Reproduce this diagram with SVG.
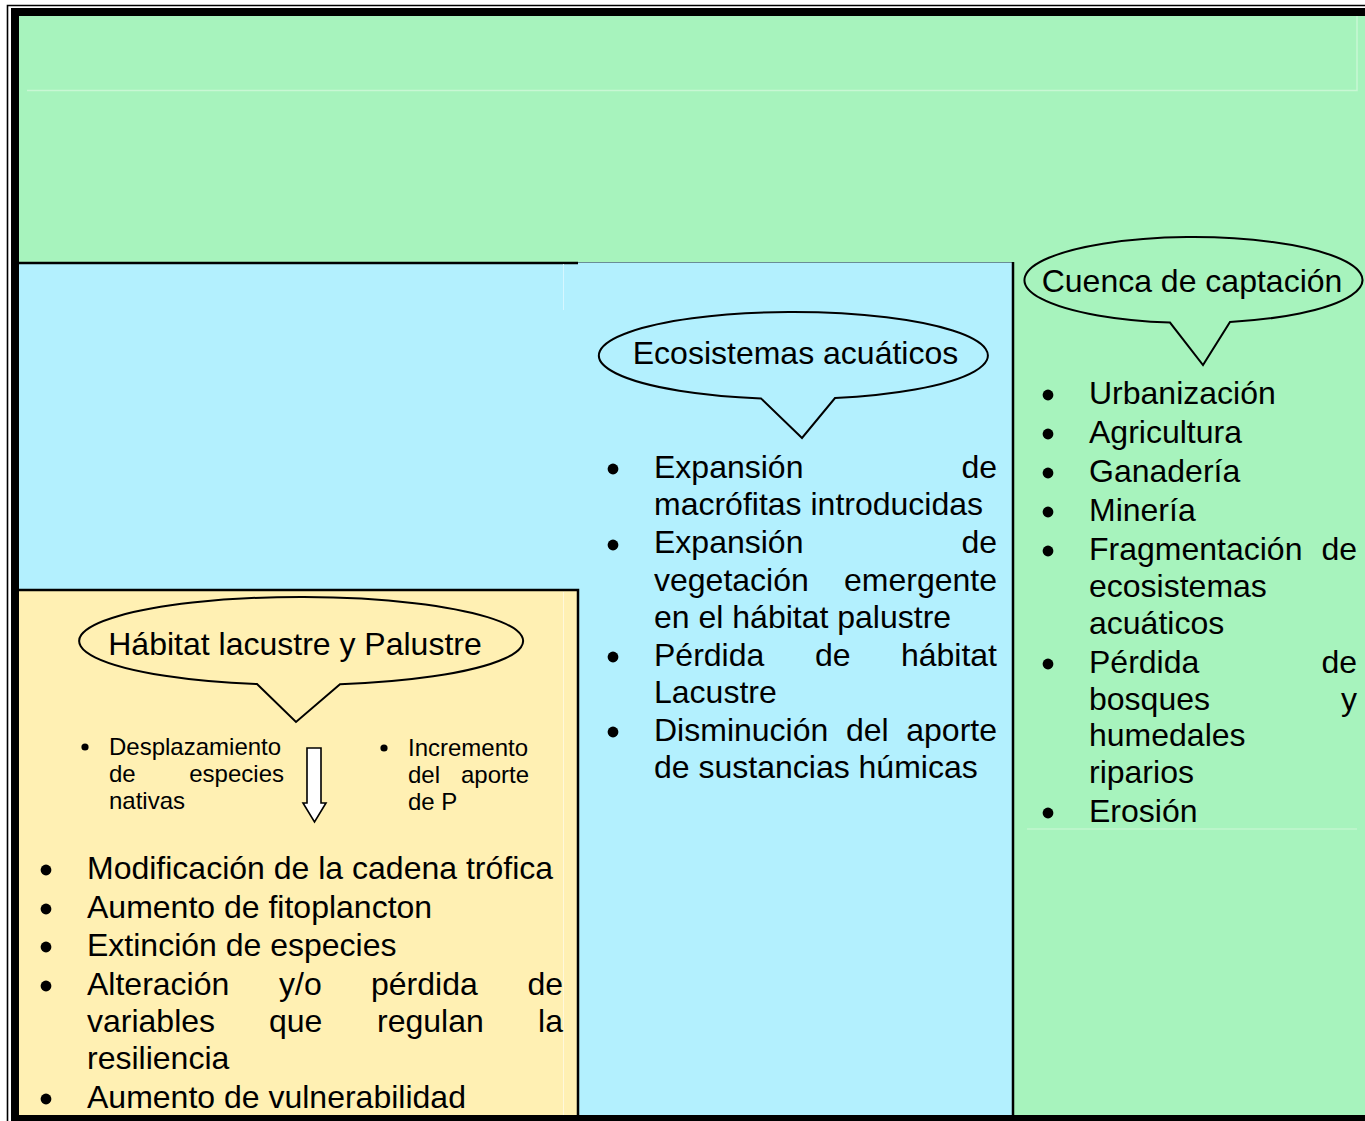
<svg xmlns="http://www.w3.org/2000/svg" width="1365" height="1121" viewBox="0 0 1365 1121">
<style>
  text { font-family: "Liberation Sans", Arial, sans-serif; fill: #000; }
  .t32 { font-size: 32px; }
  .t24 { font-size: 24px; }
  .end { text-anchor: end; }
  .mid { text-anchor: middle; }
  .callout { stroke: #000; stroke-width: 2; stroke-linejoin: miter; }
  .faint { fill: none; stroke-width: 1.5; }
</style>
<defs>
  <circle id="b32" r="5.4" fill="#000"/>
  <circle id="b24" r="3.6" fill="#000"/>
</defs>
<rect x="0" y="0" width="1365" height="1121" fill="#fff"/>
<!-- outer double frame -->
<path d="M7.5,1121 V5.5 H1365" fill="none" stroke="#000" stroke-width="1.6"/>
<rect x="11" y="8" width="1354" height="1113" fill="#000"/>
<!-- green base -->
<g id="panel-green">
  <rect x="19" y="16" width="1346" height="1099" fill="#a7f3bd"/>
  <path class="faint" d="M27,90.5 H1357 V16" stroke="#c8f7d4"/>
  <path class="faint" d="M1027,829 H1357" stroke="#c2f6cf"/>
</g>
<!-- left cyan -->
<g id="panel-cyan-left">
  <rect x="19" y="262" width="559" height="327" fill="#b3f0fe"/>
  <path d="M19,263 H578" stroke="#000" stroke-width="2.5"/>
  <path d="M563.5,264 V310" stroke="#d6f7ff" stroke-width="1"/>
</g>
<!-- middle cyan column -->
<g id="panel-cyan-mid">
  <rect x="578" y="262" width="435" height="853" fill="#b3f0fe"/>
  <path d="M578,262.5 H1013" stroke="#6a8d96" stroke-width="1"/>
  <path d="M1013,262 V1115" stroke="#000" stroke-width="2.5"/>
</g>
<!-- yellow panel -->
<g id="panel-yellow">
  <rect x="19" y="589" width="559" height="526" fill="#fff0b3"/>
  <path d="M19,590 H578 V1115" fill="none" stroke="#000" stroke-width="2.5"/>
  <path d="M563.5,592 V1115" stroke="#fff8db" stroke-width="1"/>
</g>

<!-- Cuenca de captación -->
<g id="cuenca">
  <path class="callout" fill="#a7f3bd" d="M1230,322 A169 43 0 1 0 1170,322.6 L1203,365 Z"/>
  <text class="t32 mid" x="1192" y="292">Cuenca de captación</text>
  <use href="#b32" x="1048" y="395"/>
  <text class="t32" x="1089" y="404">Urbanización</text>
  <use href="#b32" x="1048" y="434"/>
  <text class="t32" x="1089" y="443">Agricultura</text>
  <use href="#b32" x="1048" y="473"/>
  <text class="t32" x="1089" y="482">Ganadería</text>
  <use href="#b32" x="1048" y="512"/>
  <text class="t32" x="1089" y="521">Minería</text>
  <use href="#b32" x="1048" y="551"/>
  <text class="t32" x="1089" y="560">Fragmentación</text>
  <text class="t32 end" x="1357" y="560">de</text>
  <text class="t32" x="1089" y="597">ecosistemas</text>
  <text class="t32" x="1089" y="634">acuáticos</text>
  <use href="#b32" x="1048" y="664"/>
  <text class="t32" x="1089" y="673">Pérdida</text>
  <text class="t32 end" x="1357" y="673">de</text>
  <text class="t32" x="1089" y="710">bosques</text>
  <text class="t32 end" x="1357" y="710">y</text>
  <text class="t32" x="1089" y="746">humedales</text>
  <text class="t32" x="1089" y="783">riparios</text>
  <use href="#b32" x="1048" y="813"/>
  <text class="t32" x="1089" y="822">Erosión</text>
</g>

<!-- Ecosistemas acuáticos -->
<g id="ecosistemas">
  <path class="callout" fill="#b3f0fe" d="M835,398 A194.5 43.5 0 1 0 761,398.4 L802,438 Z"/>
  <text class="t32 mid" x="795.5" y="364">Ecosistemas acuáticos</text>
  <use href="#b32" x="613" y="469"/>
  <text class="t32" x="654" y="478">Expansión</text>
  <text class="t32 end" x="997" y="478">de</text>
  <text class="t32" x="654" y="515">macrófitas introducidas</text>
  <use href="#b32" x="613" y="545"/>
  <text class="t32" x="654" y="553">Expansión</text>
  <text class="t32 end" x="997" y="553">de</text>
  <text class="t32" x="654" y="591">vegetación</text>
  <text class="t32 end" x="997" y="591">emergente</text>
  <text class="t32" x="654" y="628">en el hábitat palustre</text>
  <use href="#b32" x="613" y="657"/>
  <text class="t32" x="654" y="666">Pérdida</text>
  <text class="t32" x="815" y="666">de</text>
  <text class="t32 end" x="997" y="666">hábitat</text>
  <text class="t32" x="654" y="703">Lacustre</text>
  <use href="#b32" x="613" y="732"/>
  <text class="t32" x="654" y="741">Disminución</text>
  <text class="t32" x="846" y="741">del</text>
  <text class="t32 end" x="997" y="741">aporte</text>
  <text class="t32" x="654" y="778">de sustancias húmicas</text>
</g>

<!-- Hábitat lacustre y Palustre -->
<g id="habitat">
  <path class="callout" fill="#fff0b3" d="M340,684.3 A222 44 0 1 0 257,684.1 L296,722 Z"/>
  <text class="t32 mid" x="295" y="655">Hábitat lacustre y Palustre</text>
  <use href="#b24" x="85" y="747"/>
  <text class="t24" x="109" y="755">Desplazamiento</text>
  <text class="t24" x="109" y="782">de</text>
  <text class="t24 end" x="284" y="782">especies</text>
  <text class="t24" x="109" y="809">nativas</text>
  <use href="#b24" x="384" y="748"/>
  <text class="t24" x="408" y="756">Incremento</text>
  <text class="t24" x="408" y="783">del</text>
  <text class="t24 end" x="529" y="783">aporte</text>
  <text class="t24" x="408" y="810">de P</text>
  <use href="#b32" x="46" y="870"/>
  <text class="t32" x="87" y="879">Modificación de la cadena trófica</text>
  <use href="#b32" x="46" y="909"/>
  <text class="t32" x="87" y="918">Aumento de fitoplancton</text>
  <use href="#b32" x="46" y="947"/>
  <text class="t32" x="87" y="956">Extinción de especies</text>
  <use href="#b32" x="46" y="986"/>
  <text class="t32" x="87" y="995">Alteración</text>
  <text class="t32" x="279" y="995">y/o</text>
  <text class="t32" x="371" y="995">pérdida</text>
  <text class="t32 end" x="563" y="995">de</text>
  <text class="t32" x="87" y="1032">variables</text>
  <text class="t32" x="269" y="1032">que</text>
  <text class="t32" x="377" y="1032">regulan</text>
  <text class="t32 end" x="563" y="1032">la</text>
  <text class="t32" x="87" y="1069">resiliencia</text>
  <use href="#b32" x="46" y="1099"/>
  <text class="t32" x="87" y="1108">Aumento de vulnerabilidad</text>
</g>

<!-- connectors -->
<g id="connectors">
  <path d="M307,748 H321 V803 H326 L314.5,822 L303,803 H307 Z" fill="#fff" stroke="#000" stroke-width="1.6" stroke-linejoin="miter"/>
</g>
</svg>
